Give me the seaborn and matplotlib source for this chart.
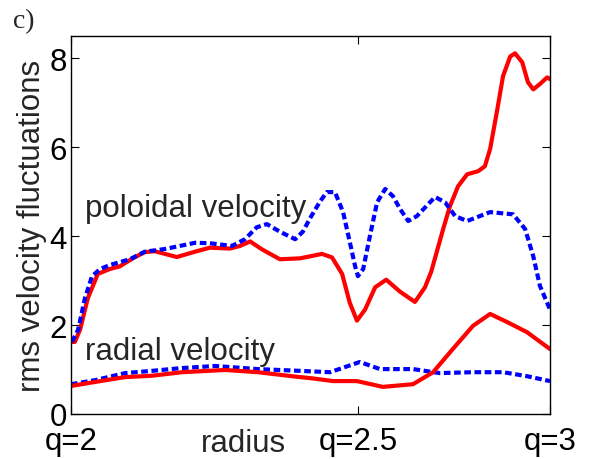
import numpy as np
import pandas as pd
import matplotlib
matplotlib.use("Agg")
import matplotlib.pyplot as plt
import seaborn as sns

# normalized radius positions (0 -> q=2, 0.6 -> q=2.5, 1 -> q=3)
pol_red_r = [0.002, 0.008, 0.019, 0.035, 0.056, 0.081, 0.102, 0.129, 0.154, 0.175, 0.196, 0.221,
             0.259, 0.290, 0.332, 0.353, 0.374, 0.399, 0.436, 0.478, 0.524, 0.545, 0.566, 0.582,
             0.597, 0.614, 0.635, 0.658, 0.687, 0.718, 0.739, 0.752, 0.777, 0.791, 0.808, 0.827,
             0.850, 0.864, 0.875, 0.889, 0.902, 0.917, 0.927, 0.942, 0.954, 0.965, 0.979, 0.994, 1.0]
pol_red_v = [1.62, 1.62, 1.90, 2.60, 3.15, 3.26, 3.32, 3.50, 3.64, 3.66, 3.60, 3.53,
             3.65, 3.74, 3.72, 3.78, 3.88, 3.70, 3.48, 3.50, 3.60, 3.52, 3.15, 2.50,
             2.10, 2.35, 2.85, 3.02, 2.75, 2.52, 2.85, 3.20, 4.16, 4.67, 5.12, 5.39,
             5.46, 5.57, 5.96, 6.79, 7.60, 8.04, 8.11, 7.91, 7.46, 7.30, 7.42, 7.57, 7.53]

pol_blue_r = [0.002, 0.015, 0.029, 0.044, 0.061, 0.081, 0.123, 0.154, 0.196, 0.259, 0.290, 0.336,
              0.363, 0.388, 0.409, 0.436, 0.468, 0.484, 0.499, 0.520, 0.534, 0.551, 0.568, 0.582,
              0.593, 0.599, 0.610, 0.624, 0.639, 0.656, 0.672, 0.687, 0.704, 0.722, 0.760, 0.781,
              0.802, 0.827, 0.875, 0.923, 0.948, 0.965, 0.979, 1.0]
pol_blue_v = [1.62, 1.90, 2.60, 3.10, 3.26, 3.35, 3.48, 3.65, 3.71, 3.85, 3.84, 3.78,
              3.93, 4.20, 4.27, 4.10, 3.93, 4.10, 4.40, 4.78, 4.99, 4.99, 4.54, 3.87,
              3.33, 3.10, 3.26, 4.00, 4.76, 5.06, 4.90, 4.61, 4.34, 4.45, 4.88, 4.76,
              4.45, 4.34, 4.54, 4.49, 4.16, 3.55, 2.88, 2.35]

rad_red_r = [0.0, 0.050, 0.113, 0.169, 0.232, 0.322, 0.390, 0.461, 0.505, 0.547, 0.597,
             0.651, 0.714, 0.756, 0.797, 0.839, 0.875, 0.910, 0.952, 1.0]
rad_red_v = [0.63, 0.72, 0.83, 0.86, 0.94, 0.99, 0.94, 0.85, 0.80, 0.74, 0.74,
             0.61, 0.67, 0.94, 1.46, 1.98, 2.25, 2.07, 1.84, 1.46]

rad_blue_r = [0.0, 0.050, 0.113, 0.169, 0.228, 0.301, 0.390, 0.478, 0.541, 0.603, 0.645,
              0.714, 0.770, 0.839, 0.902, 0.952, 1.0]
rad_blue_v = [0.67, 0.76, 0.92, 0.97, 1.03, 1.08, 1.01, 0.97, 0.94, 1.17, 1.01,
              1.01, 0.92, 0.94, 0.94, 0.85, 0.74]

tick_pos = [0.0, 0.6, 1.0]
tick_labels = ["q=2", "q=2.5", "q=3"]
ytick_vals = [0, 2, 4, 6, 8]

sns.set_style("ticks")
plt.rcParams['font.family'] = ['Liberation Sans', 'DejaVu Sans']

fig = plt.figure(figsize=(5.91, 4.60), dpi=100)
ax = fig.add_axes([71/591, 1-415/460, (550-71)/591, (415-37)/460])

RED = "#ff0000"
BLUE = "#0000ff"
lw = 3.0
dash = (0, (1.6, 0.85))

sns.lineplot(x=pol_red_r, y=pol_red_v, ax=ax, color=RED, lw=lw, sort=False)
sns.lineplot(x=pol_blue_r, y=pol_blue_v, ax=ax, color=BLUE, lw=lw, linestyle=dash, sort=False)
sns.lineplot(x=rad_blue_r, y=rad_blue_v, ax=ax, color=BLUE, lw=lw, linestyle=dash, sort=False)
sns.lineplot(x=rad_red_r, y=rad_red_v, ax=ax, color=RED, lw=lw, sort=False)

ax.set_xlim(0, 1)
ax.set_ylim(0, 8.5)
ax.set_xticks(tick_pos)
ax.set_xticklabels(tick_labels)
ax.set_yticks(ytick_vals)
ax.tick_params(direction='in', top=True, right=True, length=6, width=0.8,
               labelsize=22.5, colors='black')
ax.tick_params(axis='x', pad=9)
ax.tick_params(axis='y', pad=3)
for s in ax.spines.values():
    s.set_visible(True)
    s.set_linewidth(1.0)
    s.set_color('black')

ax.set_ylabel("rms velocity fluctuations", fontsize=22.5, labelpad=2)
ax.set_xlabel("")
ax.text(0.359, -0.098, "radius", transform=ax.transAxes, ha='center', va='baseline', fontsize=22.5)

ax.text(0.029, 4.45, "poloidal velocity", ha='left', va='baseline', fontsize=22.5)
ax.text(0.029, 1.24, "radial velocity", ha='left', va='baseline', fontsize=22.5)

fig.text(13/591, 1-28/460, "c)", fontsize=20, family=['Liberation Serif', 'DejaVu Serif'],
         ha='left', va='baseline')

fig.savefig("out.png", dpi=100)
